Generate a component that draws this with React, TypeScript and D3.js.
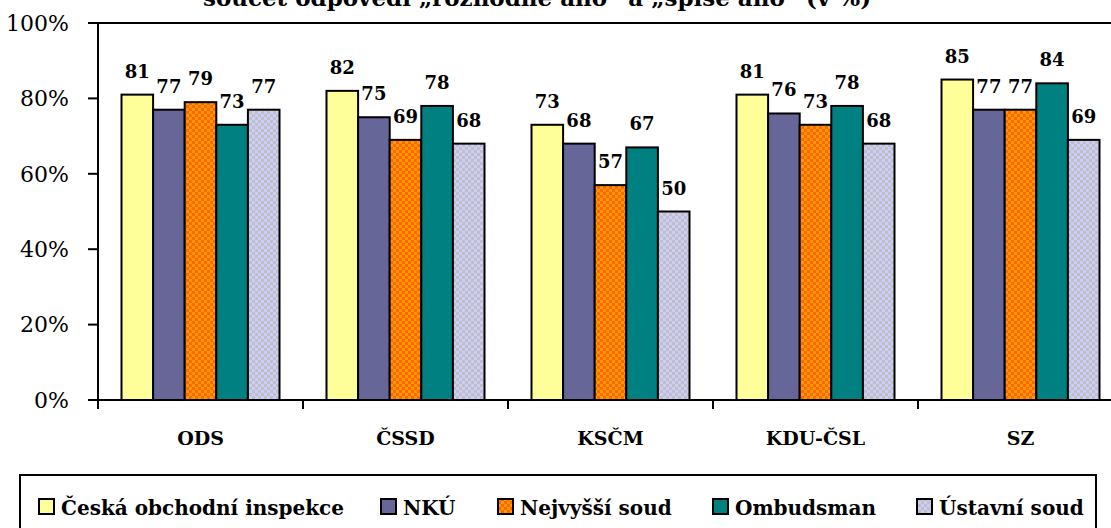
import * as d3 from 'd3';

const categories = ['ODS', 'ČSSD', 'KSČM', 'KDU-ČSL', 'SZ'];
const seriesNames = ['Česká obchodní inspekce', 'NKÚ', 'Nejvyšší soud', 'Ombudsman', 'Ústavní soud'];
const coiValues = [81, 82, 73, 81, 85];
const nkuValues = [77, 75, 68, 76, 77];
const nejvyssiValues = [79, 69, 57, 73, 77];
const ombudsmanValues = [73, 78, 67, 78, 84];
const ustavniValues = [77, 68, 50, 68, 69];
const yTicks = [0, 20, 40, 60, 80, 100];
const title = 'součet odpovědí „rozhodně ano“ a „spíše ano“ (v %)';

const seriesValues = [coiValues, nkuValues, nejvyssiValues, ombudsmanValues, ustavniValues];
const fills = ['#FFFF99', '#666699', 'url(#checkOrange)', '#008080', 'url(#checkLavender)'];
const legendX = [39, 381, 498, 713, 917];

const font = '"DejaVu Serif", serif';

export default function App() {
  const width = 1111;
  const height = 528;
  const top = 23;
  const bottom = 400;
  const left = 98;
  const band = 205;

  const x = d3.scaleBand<string>()
    .domain(categories)
    .range([left, left + band * categories.length])
    .padding(0);

  const inner = d3.scaleBand<string>()
    .domain(seriesNames)
    .range([23.5, band - 23.5])
    .padding(0);

  const y = d3.scaleLinear().domain([0, 100]).range([bottom, top]);

  const textStyle = { fontFamily: font };

  return (
    <svg
      width={width}
      height={height}
      style={{ position: 'absolute', left: 0, top: 0, background: '#fff', fontFamily: font }}
    >
      <defs>
        <pattern id="checkOrange" width={6} height={6} patternUnits="userSpaceOnUse">
          <rect width={6} height={6} fill="#FF6600" />
          <rect width={3} height={3} fill="#FF9900" />
          <rect x={3} y={3} width={3} height={3} fill="#FF9900" />
        </pattern>
        <pattern id="checkLavender" width={6} height={6} patternUnits="userSpaceOnUse">
          <rect width={6} height={6} fill="#CCCCFF" />
          <rect width={3} height={3} fill="#C0C0C0" />
          <rect x={3} y={3} width={3} height={3} fill="#C0C0C0" />
        </pattern>
      </defs>

      {/* title, cut at the top edge as in the source */}
      <text x={537} y={6} textAnchor="middle" fontSize={23} fontWeight="bold" style={textStyle}>{title}</text>

      {/* plot frame top */}
      <line x1={left} x2={width} y1={top} y2={top} stroke="#000" strokeWidth={2} />

      {/* bars */}
      {categories.map((c, ci) => (
        <g key={c}>
          {seriesNames.map((s, si) => {
            const v = seriesValues[si][ci];
            const bx = x(c)! + inner(s)!;
            return (
              <g key={s}>
                <rect
                  x={bx}
                  y={y(v)}
                  width={inner.bandwidth()}
                  height={bottom - y(v)}
                  fill={fills[si]}
                  stroke="#000"
                  strokeWidth={2}
                />
                <text
                  x={bx + inner.bandwidth() / 2}
                  y={y(v) - 17}
                  textAnchor="middle"
                  fontSize={18}
                  fontWeight="bold"
                  style={textStyle}
                >
                  {v}
                </text>
              </g>
            );
          })}
        </g>
      ))}

      {/* y axis */}
      <line x1={left} x2={left} y1={top} y2={bottom} stroke="#000" strokeWidth={2} />
      {yTicks.map(t => (
        <g key={t}>
          <line x1={left - 10} x2={left} y1={y(t)} y2={y(t)} stroke="#000" strokeWidth={2} />
          <text x={69} y={y(t)} dy="0.35em" textAnchor="end" fontSize={22} style={textStyle}>{t}%</text>
        </g>
      ))}

      {/* x axis */}
      <line x1={left} x2={width} y1={bottom} y2={bottom} stroke="#000" strokeWidth={2} />
      {categories.map(c => (
        <g key={c}>
          <line x1={x(c)!} x2={x(c)!} y1={bottom} y2={bottom + 9} stroke="#000" strokeWidth={2} />
          <text x={x(c)! + band / 2} y={445} textAnchor="middle" fontSize={19} fontWeight="bold" style={textStyle}>{c}</text>
        </g>
      ))}

      {/* legend */}
      <rect x={20} y={475} width={1076} height={70} fill="#fff" stroke="#000" strokeWidth={2} />
      {seriesNames.map((s, i) => (
        <g key={s}>
          <rect x={legendX[i]} y={499} width={15} height={15} fill={fills[i]} stroke="#000" strokeWidth={2} />
          <text x={legendX[i] + 22} y={515} fontSize={20} fontWeight="bold" style={textStyle}>{s}</text>
        </g>
      ))}
    </svg>
  );
}
